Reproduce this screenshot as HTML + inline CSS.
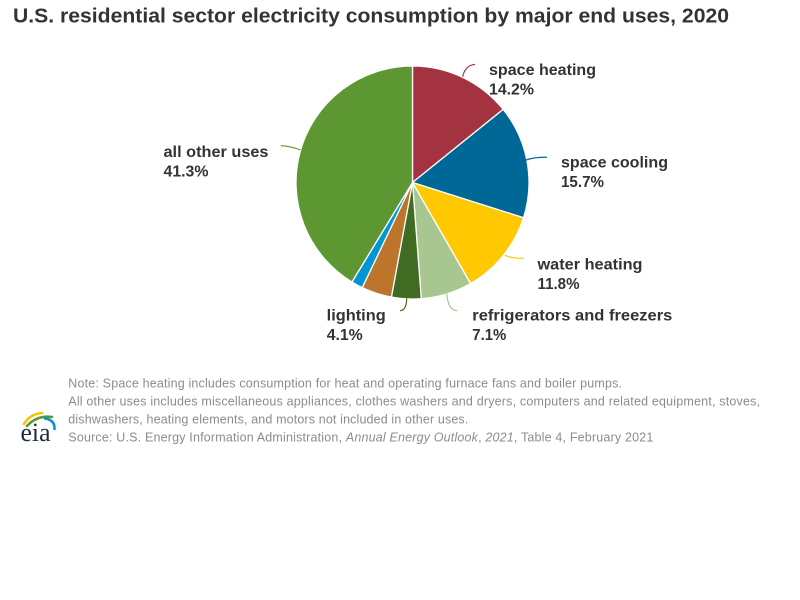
<!DOCTYPE html>
<html>
<head>
<meta charset="utf-8">
<style>
  html, body { margin: 0; padding: 0; background: #ffffff; }
  body { width: 800px; height: 600px; overflow: hidden; }
  svg { display: block; }
</style>
</head>
<body>
<svg width="800" height="600" viewBox="0 0 800 600" xmlns="http://www.w3.org/2000/svg">
  <rect x="0" y="0" width="800" height="600" fill="#ffffff"/>

  <!-- Title -->
  <text x="13" y="22.5" font-family="'Liberation Sans', Arial, sans-serif" font-weight="bold" font-size="20.5" fill="#333333" textLength="716" lengthAdjust="spacingAndGlyphs">U.S. residential sector electricity consumption by major end uses, 2020</text>

  <!-- Pie -->
  <g stroke="#ffffff" stroke-width="1.3" stroke-linejoin="round">
    <path d="M412.5 182.5 L412.5 66 A116.5 116.5 0 0 1 503.19 109.37 Z" fill="#a33340"/>
    <path d="M412.5 182.5 L503.19 109.37 A116.5 116.5 0 0 1 523.52 217.80 Z" fill="#006896"/>
    <path d="M412.5 182.5 L523.52 217.80 A116.5 116.5 0 0 1 470.54 283.51 Z" fill="#ffc800"/>
    <path d="M412.5 182.5 L470.54 283.51 A116.5 116.5 0 0 1 421.28 298.67 Z" fill="#a8c68f"/>
    <path d="M412.5 182.5 L421.28 298.67 A116.5 116.5 0 0 1 391.39 297.07 Z" fill="#406b23"/>
    <path d="M412.5 182.5 L391.39 297.07 A116.5 116.5 0 0 1 362.24 287.60 Z" fill="#bd742b"/>
    <path d="M412.5 182.5 L362.24 287.60 A116.5 116.5 0 0 1 351.93 282.02 Z" fill="#0096d6"/>
    <path d="M412.5 182.5 L351.93 282.02 A116.5 116.5 0 0 1 412.5 66 Z" fill="#5d9732"/>
  </g>

  <!-- Connector lines -->
  <g fill="none" stroke-width="1.2">
    <path d="M462.7 76.7 Q465 65.5 475 64.3" stroke="#a33340"/>
    <path d="M526 160 Q535 157 547 157.3" stroke="#006896"/>
    <path d="M505 255 Q510 258.5 523.5 258.3" stroke="#ffc800"/>
    <path d="M446.7 293.3 Q448 310.5 457 310.7" stroke="#a8c68f"/>
    <path d="M406.7 298.3 Q406.5 310.5 400 310.7" stroke="#406b23"/>
    <path d="M280.7 145.7 Q290 146 300.5 150" stroke="#5d9732"/>
  </g>

  <!-- Labels -->
  <g font-family="'Liberation Sans', Arial, sans-serif" font-weight="bold" font-size="16" fill="#333333">
    <text x="489" y="75" textLength="107" lengthAdjust="spacingAndGlyphs">space heating</text>
    <text x="489" y="94.5" textLength="45" lengthAdjust="spacingAndGlyphs">14.2%</text>

    <text x="561" y="167.5" textLength="107" lengthAdjust="spacingAndGlyphs">space cooling</text>
    <text x="561" y="187" textLength="43" lengthAdjust="spacingAndGlyphs">15.7%</text>

    <text x="537.5" y="269.5" textLength="105" lengthAdjust="spacingAndGlyphs">water heating</text>
    <text x="537.5" y="289" textLength="42" lengthAdjust="spacingAndGlyphs">11.8%</text>

    <text x="472.3" y="320.5" textLength="200" lengthAdjust="spacingAndGlyphs">refrigerators and freezers</text>
    <text x="472.3" y="340" textLength="34" lengthAdjust="spacingAndGlyphs">7.1%</text>

    <text x="326.7" y="320.5" textLength="59" lengthAdjust="spacingAndGlyphs">lighting</text>
    <text x="326.7" y="340" textLength="36" lengthAdjust="spacingAndGlyphs">4.1%</text>

    <text x="163.5" y="157" textLength="105" lengthAdjust="spacingAndGlyphs">all other uses</text>
    <text x="163.5" y="176.5" textLength="45" lengthAdjust="spacingAndGlyphs">41.3%</text>
  </g>

  <!-- Notes -->
  <text font-family="'Liberation Sans', Arial, sans-serif" font-size="12.5" fill="#8c8c8c" x="68.3" y="387.3" textLength="553.7" lengthAdjust="spacing">Note: Space heating includes consumption for heat and operating furnace fans and boiler pumps.</text>
  <text font-family="'Liberation Sans', Arial, sans-serif" font-size="12.5" fill="#8c8c8c" x="68.3" y="405.3" textLength="691.7" lengthAdjust="spacing">All other uses includes miscellaneous appliances, clothes washers and dryers, computers and related equipment, stoves,</text>
  <text font-family="'Liberation Sans', Arial, sans-serif" font-size="12.5" fill="#8c8c8c" x="68.3" y="423.3" textLength="400" lengthAdjust="spacing">dishwashers, heating elements, and motors not included in other uses.</text>
  <text font-family="'Liberation Sans', Arial, sans-serif" font-size="12.5" fill="#8c8c8c" x="68.3" y="441.5" textLength="585" lengthAdjust="spacing">Source: U.S. Energy Information Administration, <tspan font-style="italic">Annual Energy Outlook</tspan>, <tspan font-style="italic">2021</tspan>, Table 4, February 2021</text>

  <!-- EIA logo -->
  <g fill="none" stroke-linecap="round">
    <path d="M24 424 Q30 414 42 413" stroke="#f5c400" stroke-width="2.6"/>
    <path d="M27 426 Q37 415 52 417" stroke="#5d9732" stroke-width="2.6"/>
    <path d="M45 418.5 Q55 420 54.5 429" stroke="#0096d6" stroke-width="2.6"/>
  </g>
  <text x="20.5" y="441" font-family="'Liberation Serif', 'DejaVu Serif', serif" font-size="26" fill="#1f2d3d" textLength="30" lengthAdjust="spacingAndGlyphs">eia</text>
</svg>
</body>
</html>
